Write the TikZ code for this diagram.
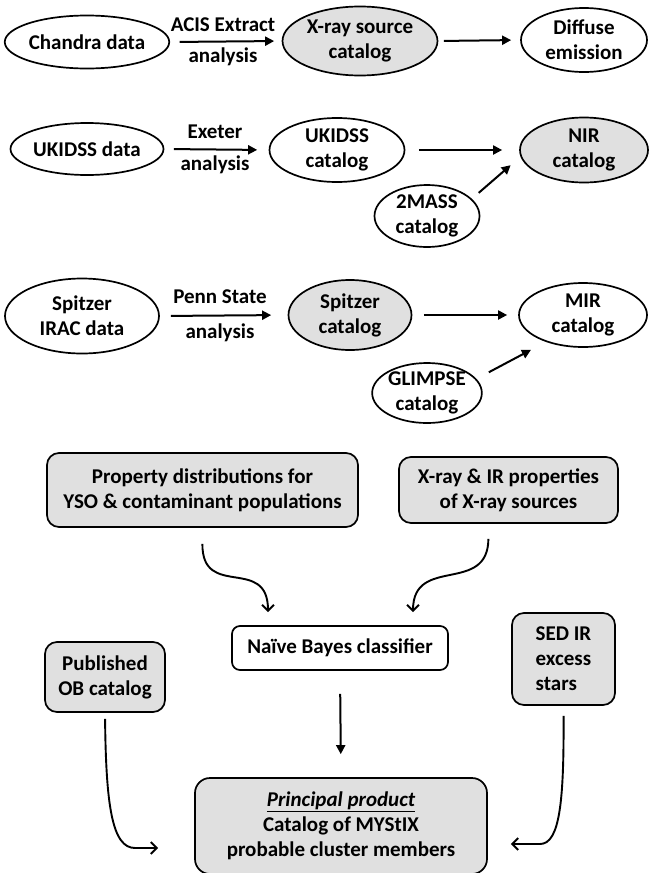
\documentclass[tikz,border=0pt]{standalone}
\usepackage{fontspec}
\setmainfont{Carlito}
\usetikzlibrary{shapes.geometric,arrows.meta,calc}
\definecolor{boxgray}{RGB}{224,224,224}
\begin{document}
\begin{tikzpicture}[x=1pt,y=-1pt,
  txt/.style={font=\fontsize{21}{25}\selectfont\bfseries, align=center, text=black},
  ell/.style={txt, ellipse, draw, line width=1.7pt, inner sep=0pt},
  gfill/.style={fill=boxgray},
  rbox/.style={txt, rectangle, rounded corners=12pt, draw, line width=1.7pt, inner sep=0pt},
  arr/.style={line width=2pt, -{Triangle[length=9pt,width=9pt]}},
  carr/.style={line width=1.9pt, -{Straight Barb[length=6pt,width=12pt]}},
  lbl/.style={txt, inner sep=0pt}]
\useasboundingbox (0,0) rectangle (650,873);

% Row 1
\node[ell, minimum width=153pt, minimum height=53pt] (ch) at (87,42) {Chandra data};
\node[ell, gfill, minimum width=155pt, minimum height=69pt] (xr) at (360,41) {X-ray source\\catalog};
\node[ell, minimum width=126pt, minimum height=64pt] (df) at (584,40) {Diffuse\\emission};
\node[lbl] (l1a) at (223,25) {ACIS Extract};
\node[lbl] (l1b) at (223,57) {analysis};
\draw[arr, shorten <=9.5pt, shorten >=7.5pt] (ch.east) -- (xr.west);
\draw[arr, shorten <=5.5pt, shorten >=9pt] (xr.east) -- (df.west);

% Row 2
\node[ell, minimum width=153pt, minimum height=52pt] (ud) at (87,149) {UKIDSS data};
\node[ell, minimum width=135pt, minimum height=64pt] (uc) at (337,150) {UKIDSS\\catalog};
\node[ell, gfill, minimum width=128pt, minimum height=65pt] (nir) at (584,150) {NIR\\catalog};
\node[ell, minimum width=105pt, minimum height=62pt] (m2) at (427,216) {2MASS\\catalog};
\node[lbl] (l2a) at (215,132) {Exeter};
\node[lbl] (l2b) at (215,165) {analysis};
\draw[arr, shorten <=9.5pt, shorten >=11.5pt] (ud.east) -- (uc.west);
\draw[arr, shorten <=13.5pt, shorten >=17pt] (uc.east) -- (nir.west);
\draw[arr, shorten <=9pt, shorten >=13pt] (m2.21) -- (nir.186);

% Row 3
\node[ell, minimum width=154pt, minimum height=75pt] (sp) at (82,316) {Spitzer\\IRAC data};
\node[ell, gfill, minimum width=123pt, minimum height=70pt] (sc) at (350,315) {Spitzer\\catalog};
\node[ell, minimum width=128pt, minimum height=64pt] (mir) at (583,315) {MIR\\catalog};
\node[ell, minimum width=106pt, minimum height=60pt] (gl) at (427,393) {GLIMPSE\\catalog};
\node[lbl] (l3a) at (220,297) {Penn State};
\node[lbl] (l3b) at (220,333) {analysis};
\draw[arr, shorten <=11pt, shorten >=16.5pt] (sp.east) -- (sc.west);
\draw[arr, shorten <=11.5pt, shorten >=11pt] (sc.east) -- (mir.west);
\draw[arr, shorten <=14pt, shorten >=17pt] (gl.16) -- (mir.216);

% Bottom part
\node[rbox, gfill, minimum width=311pt, minimum height=74pt] (prop) at (202.5,490) {Property distributions for\\YSO \& contaminant populations};
\node[rbox, gfill, minimum width=219pt, minimum height=66pt] (xrb) at (508.5,490) {X-ray \& IR properties\\of X-ray sources};
\node[rbox, rounded corners=8pt, minimum width=216pt, minimum height=44pt] (nb) at (340,648) {Naïve Bayes classifier};
\node[rbox, gfill, minimum width=120pt, minimum height=70pt] (pb) at (105,677) {Published\\OB catalog};
\node[rbox, gfill, align=left, minimum width=103pt, minimum height=92pt] (sed) at (563.5,659) {SED IR\\excess\\stars};
\node[rbox, gfill, rounded corners=15pt, minimum width=292pt, minimum height=96pt] (pr) at (341,826) {\underline{\itshape Principal product}\\Catalog of MYStIX\\probable cluster members};

\coordinate (nbl) at ($(nb.north)+(-72,0)$);
\coordinate (nbr) at ($(nb.north)+(73,0)$);
\coordinate (xrs) at ($(xrb.south)+(-20,0)$);
\coordinate (prl) at ($(pr.west)+(0,22)$);
\coordinate (prr) at ($(pr.east)+(0,18)$);

\draw[carr, shorten <=16pt, shorten >=13pt] (prop.south) .. controls (202,600) and (268,555) .. (nbl);
\draw[carr, shorten <=15pt, shorten >=13pt] (xrs) .. controls (488,595) and (413,555) .. (nbr);
\draw[arr, shorten <=23pt, shorten >=23pt] (nb.south) -- (pr.north);
\draw[carr, shorten <=6pt, shorten >=36pt] (pb.south) .. controls (106,805) and (112,848) .. (135,848) -- (prl);
\draw[carr, shorten <=10pt, shorten >=23pt] (sed.south) .. controls (564,800) and (560,844) .. (540,844) -- (prr);
\end{tikzpicture}
\end{document}
